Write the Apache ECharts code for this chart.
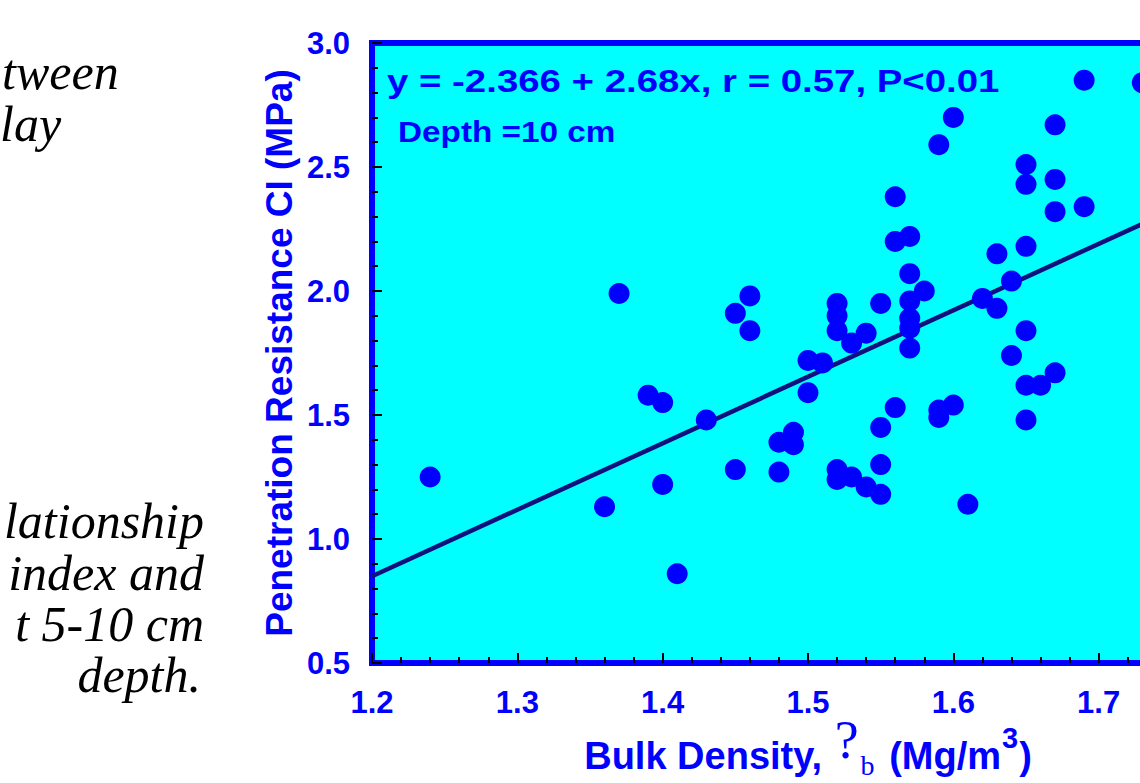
<!DOCTYPE html>
<html>
<head>
<meta charset="utf-8">
<script src="https://cdn.jsdelivr.net/npm/echarts@6/dist/echarts.min.js"></script>
<style>
html,body{margin:0;padding:0;background:#fff;}
#chart{width:1140px;height:783px;}
</style>
</head>
<body>
<div id="chart"></div>
<script>
// Bulk density (Mg/m3) of each sample
const bulkDensity = [
  1.24, 1.36, 1.37, 1.39, 1.40, 1.40, 1.41, 1.43, 1.45, 1.45,
  1.46, 1.46, 1.48, 1.48, 1.49, 1.49, 1.50, 1.50, 1.51, 1.52,
  1.52, 1.52, 1.52, 1.52, 1.53, 1.53, 1.54, 1.54, 1.55, 1.55,
  1.55, 1.55, 1.56, 1.56, 1.56, 1.57, 1.57, 1.57, 1.57, 1.57,
  1.57, 1.58, 1.59, 1.59, 1.59, 1.60, 1.60, 1.61, 1.62, 1.63,
  1.63, 1.64, 1.64, 1.65, 1.65, 1.65, 1.65, 1.65, 1.65, 1.66,
  1.67, 1.67, 1.67, 1.67, 1.69, 1.69, 1.73
];
// Penetration resistance CI (MPa) of each sample
const penetration = [
  1.25, 1.13, 1.99, 1.58, 1.55, 1.22, 0.86, 1.48, 1.91, 1.28,
  1.98, 1.84, 1.39, 1.27, 1.43, 1.38, 1.72, 1.59, 1.71, 1.95,
  1.90, 1.84, 1.28, 1.24, 1.79, 1.25, 1.83, 1.21, 1.95, 1.45,
  1.30, 1.18, 2.38, 2.20, 1.53, 2.22, 2.07, 1.96, 1.89, 1.85,
  1.77, 2.00, 2.59, 1.52, 1.49, 2.70, 1.54, 1.14, 1.97, 2.15,
  1.93, 2.04, 1.74, 2.51, 2.43, 2.18, 1.84, 1.62, 1.48, 1.62,
  2.67, 2.45, 2.32, 1.67, 2.85, 2.34, 2.84
];
// Regression: y = a + b x
const fitIntercept = -2.366;
const fitSlope = 2.68;
const fitXRange = [1.2, 1.8];

const xAxisRange = [1.2, 1.8];
const yAxisRange = [0.5, 3.0];

const equationText = 'y = -2.366 + 2.68x, r = 0.57, P<0.01';
const depthText = 'Depth =10 cm';
const yTitle = 'Penetration Resistance CI (MPa)';
const topTextLines = ['tween', 'lay'];
const bottomTextLines = ['lationship', 'index and', 't 5-10 cm', 'depth.'];

const points = bulkDensity.map((x, i) => [x, penetration[i]]);
const fitLine = fitXRange.map(x => [x, +(fitIntercept + fitSlope * x).toFixed(4)]);

const BLUE = '#0000ff';
const SANS = '"Liberation Sans", Arial, sans-serif';
const SERIF = '"Liberation Serif", "Times New Roman", serif';

const chart = echarts.init(document.getElementById('chart'), null, {renderer: 'svg'});

const serifText = (txt, x, baseline, align) => ({
  type: 'text', x: x, y: baseline - 17, silent: true,
  style: {text: txt, x: 0, y: 0, textAlign: align, textVerticalAlign: 'middle',
          font: 'italic 50px ' + SERIF, fill: '#000', lineHeight: 40}
});

chart.setOption({
  animation: false,
  backgroundColor: '#ffffff',
  grid: {
    left: 372, top: 43, width: 872, height: 620,
    outerBoundsMode: 'none', containLabel: false,
    show: true, backgroundColor: '#00ffff', borderColor: BLUE, borderWidth: 6
  },
  xAxis: {
    type: 'value', min: xAxisRange[0], max: xAxisRange[1], interval: 0.1,
    name: '{t|Bulk Density, }{q|?}{b|b}{t| (Mg/m}{s|3}{t|)}',
    nameLocation: 'middle', nameGap: 56, nameMoveOverlap: false,
    nameTextStyle: {
      rich: {
        t: {fontFamily: SANS, fontWeight: 'bold', fontSize: 38, color: BLUE, lineHeight: 60, verticalAlign: 'bottom', padding: [0, 0, 3.6, 0]},
        q: {fontFamily: SERIF, fontWeight: 'normal', fontSize: 54, color: BLUE, lineHeight: 60, verticalAlign: 'bottom', padding: [0, 0, 12, 2]},
        b: {fontFamily: SERIF, fontWeight: 'normal', fontSize: 28, color: BLUE, lineHeight: 60, verticalAlign: 'bottom', padding: [0, 4, 0, 2]},
        s: {fontFamily: SANS, fontWeight: 'bold', fontSize: 29, color: BLUE, lineHeight: 60, verticalAlign: 'bottom', padding: [0, 1, 27, 1]}
      }
    },
    axisLine: {show: true, onZero: false, lineStyle: {color: BLUE, width: 6}},
    axisTick: {show: true, inside: true, length: 10, lineStyle: {color: '#000', width: 2}},
    minorTick: {show: true, splitNumber: 5, length: 6, lineStyle: {color: '#000', width: 2}},
    splitLine: {show: false},
    axisLabel: {
      color: BLUE, fontFamily: SANS, fontWeight: 'bold', fontSize: 31, margin: 24,
      showMinLabel: true, showMaxLabel: false, formatter: v => v.toFixed(1)
    }
  },
  yAxis: {
    type: 'value', min: yAxisRange[0], max: yAxisRange[1], interval: 0.5,
    name: yTitle, nameLocation: 'middle', nameGap: 74, nameRotate: 90, nameMoveOverlap: false,
    nameTextStyle: {color: BLUE, fontFamily: SANS, fontWeight: 'bold', fontSize: 37},
    axisLine: {show: true, onZero: false, lineStyle: {color: BLUE, width: 6}},
    axisTick: {show: true, inside: true, length: 10, lineStyle: {color: '#000', width: 2}},
    minorTick: {show: true, splitNumber: 5, length: 6, lineStyle: {color: '#000', width: 2}},
    splitLine: {show: false},
    axisLabel: {
      color: BLUE, fontFamily: SANS, fontWeight: 'bold', fontSize: 31, margin: 22,
      showMinLabel: true, showMaxLabel: true, formatter: v => v.toFixed(1)
    }
  },
  graphic: [
    {type: 'text', x: 387, y: 80.6, scaleX: 1.2, silent: true,
     style: {text: equationText, x: 0, y: 0, textAlign: 'left', textVerticalAlign: 'middle',
             font: 'bold 32px ' + SANS, fill: BLUE}},
    {type: 'text', x: 398, y: 131.3, scaleX: 1.11, silent: true,
     style: {text: depthText, x: 0, y: 0, textAlign: 'left', textVerticalAlign: 'middle',
             font: 'bold 30px ' + SANS, fill: BLUE}},
    serifText(topTextLines[0], 2, 89, 'left'),
    serifText(topTextLines[1], 0, 141, 'left'),
    serifText(bottomTextLines[0], 204, 538, 'right'),
    serifText(bottomTextLines[1], 204, 590, 'right'),
    serifText(bottomTextLines[2], 204, 641, 'right'),
    serifText(bottomTextLines[3], 201, 692, 'right')
  ],
  series: [
    {
      type: 'line', data: fitLine, symbol: 'none', silent: true, z: 2,
      lineStyle: {color: '#10107f', width: 4.5}
    },
    {
      type: 'scatter', data: points, symbol: 'circle', symbolSize: 21, z: 3,
      itemStyle: {color: BLUE, opacity: 1}
    }
  ]
});
</script>
</body>
</html>
